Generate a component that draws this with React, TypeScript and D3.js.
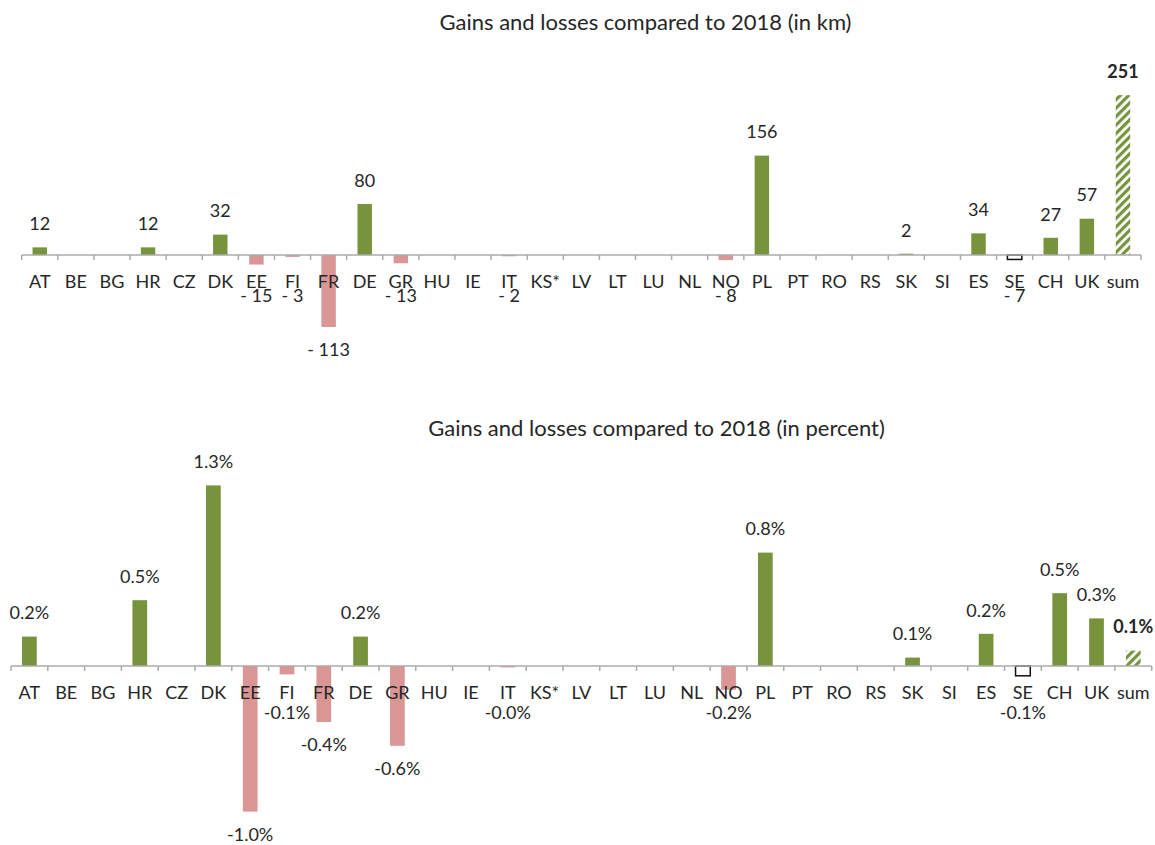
import React from "react";
import * as d3 from "d3";

const categories = ["AT","BE","BG","HR","CZ","DK","EE","FI","FR","DE","GR","HU","IE","IT","KS*","LV","LT","LU","NL","NO","PL","PT","RO","RS","SK","SI","ES","SE","CH","UK","sum"];

// gains/losses in km (null = no value shown)
const kmValues: (number | null)[] = [12,null,null,12,null,32,-15,-3,-113,80,-13,null,null,-2,null,null,null,null,null,-8,156,null,null,null,2,null,34,-7,27,57,251];

// gains/losses in percent
const pctValues: (number | null)[] = [0.21,null,null,0.47,null,1.29,-1.04,-0.06,-0.40,0.21,-0.57,null,null,-0.01,null,null,null,null,null,-0.17,0.81,null,null,null,0.06,null,0.23,-0.07,0.52,0.34,0.11];

const titles = ["Gains and losses compared to 2018 (in km)", "Gains and losses compared to 2018 (in percent)"];

const GREEN = "#77933C";
const RED = "#D99694";
const TEXT = "#262626";
const AXIS = "#ABABAB";
const FONT = "Lato, 'Open Sans', sans-serif";
const FS = 18;
const TITLE_FS = 22;

type PanelProps = {
  values: (number | null)[];
  title: string;
  titleX: number;
  titleY: number;
  x0: number;
  x1: number;
  axisY: number;
  pxPerUnit: number;
  minNegOffset: number;
  fmt: (v: number) => string;
};

function Panel({ values, title, titleX, titleY, x0, x1, axisY, pxPerUnit, minNegOffset, fmt }: PanelProps) {
  const n = categories.length;
  const x = d3.scaleBand<string>().domain(categories).range([x0, x1]).paddingInner(0.6).paddingOuter(0.3);
  const y = d3.scaleLinear().domain([0, 1]).range([axisY, axisY - pxPerUnit]);
  const step = x.step();
  const bw = x.bandwidth();
  const tickXs = d3.range(n + 1).map((i) => x0 + step * i);
  const last = n - 1;
  return (
    <g>
      <text x={titleX} y={titleY} dy="0.35em" textAnchor="middle" fontFamily={FONT} fontSize={TITLE_FS} fill={TEXT}>{title}</text>
      {values.map((v, i) => {
        if (v === null) return null;
        const c = categories[i];
        const top = Math.min(y(v), y(0));
        const h = Math.abs(y(v) - y(0));
        let fill = v >= 0 ? GREEN : RED;
        let stroke = "none";
        if (c === "SE") { fill = "#ffffff"; stroke = "#111"; }
        if (i === last) fill = "url(#hatch)";
        return (
          <rect key={c} x={x(c)} y={top} width={bw} height={Math.max(h, 0.8)} fill={fill} stroke={stroke} strokeWidth={stroke === "none" ? 0 : 1.5} />
        );
      })}
      <line x1={x0} x2={x1} y1={axisY} y2={axisY} stroke={AXIS} strokeWidth={1.5} />
      {tickXs.map((tx, i) => (
        <line key={i} x1={tx} x2={tx} y1={axisY} y2={axisY + 5} stroke={AXIS} strokeWidth={1.5} />
      ))}
      {categories.map((c) => (
        <text key={c} x={(x(c) as number) + bw / 2} y={axisY + 27} dy="0.35em" textAnchor="middle" fontFamily={FONT} fontSize={FS} fill={TEXT}>{c}</text>
      ))}
      {values.map((v, i) => {
        if (v === null) return null;
        const c = categories[i];
        const cx = (x(c) as number) + bw / 2;
        const cy = v >= 0 ? y(v) - 23.5 : Math.max(y(v) + 23, axisY + minNegOffset);
        return (
          <text key={"l" + c} x={cx} y={cy} dy="0.35em" textAnchor="middle" fontFamily={FONT} fontSize={FS} fill={TEXT} fontWeight={i === last ? "bold" : "normal"}>{fmt(v)}</text>
        );
      })}
    </g>
  );
}

export default function App() {
  const fmtKm = (v: number) => (v < 0 ? "- " + Math.abs(v) : String(v));
  const fmtPct = (v: number) => v.toFixed(1) + "%";
  return (
    <svg width={1155} height={845} style={{ position: "absolute", left: 0, top: 0, background: "#fff" }}>
      <defs>
        <pattern id="hatch" width={6} height={6} patternUnits="userSpaceOnUse" patternTransform="rotate(45)">
          <rect width={6} height={6} fill="#ffffff" />
          <rect width={3.2} height={6} fill={GREEN} />
        </pattern>
      </defs>
      <Panel values={kmValues} title={titles[0]} titleX={645.5} titleY={22.5} x0={21.7} x1={1141} axisY={255} pxPerUnit={0.637} minNegOffset={41} fmt={fmtKm} />
      <Panel values={pctValues} title={titles[1]} titleX={656.5} titleY={428} x0={11} x1={1151.7} axisY={666} pxPerUnit={140} minNegOffset={47} fmt={fmtPct} />
    </svg>
  );
}
